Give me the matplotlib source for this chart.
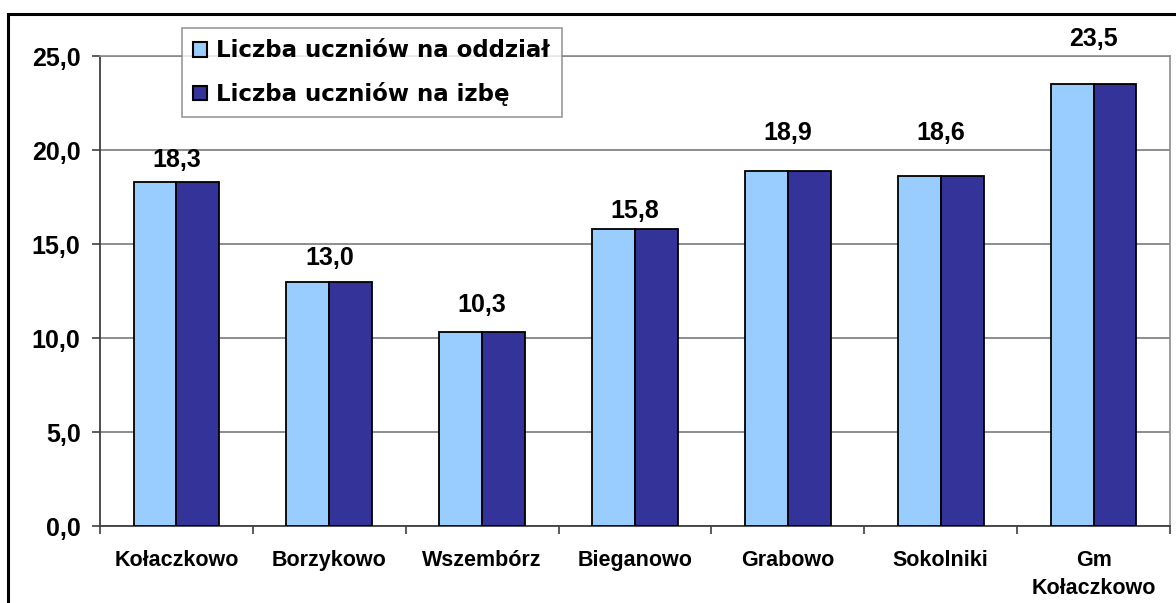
#!/usr/bin/env python3

import numpy as np
import matplotlib
matplotlib.use('Agg')
import matplotlib.pyplot as plt
from matplotlib.patches import Rectangle

categories = ['Kołaczkowo', 'Borzykowo', 'Wszembórz', 'Bieganowo', 'Grabowo', 'Sokolniki', 'Gm\nKołaczkowo']
per_class = [18.3, 13.0, 10.3, 15.8, 18.9, 18.6, 23.5]
per_room = [18.3, 13.0, 10.3, 15.8, 18.9, 18.6, 23.5]
series_names = ['Liczba uczniów na oddział', 'Liczba uczniów na izbę']

# label lift above the bars, as placed in the original
label_lift = [1.15, 1.25, 1.45, 0.95, 2.0, 2.3, 2.4]

plt.rcParams['font.family'] = ['Liberation Sans', 'DejaVu Sans']
plt.rcParams['font.weight'] = 'bold'

fig = plt.figure(figsize=(11.76, 6.03), dpi=100)
W, H = 1176, 603
ax = fig.add_axes([100 / W, (H - 526) / H, 1070 / W, 470 / H])

x = np.arange(len(categories))
bw = 0.28
ax.bar(x - bw / 2, per_class, bw, color='#99CCFF', edgecolor='black', linewidth=1.3,
       label=series_names[0], zorder=3)
ax.bar(x + bw / 2, per_room, bw, color='#333399', edgecolor='black', linewidth=1.3,
       label=series_names[1], zorder=3)

for i, v in enumerate(per_class):
    ax.text(x[i], v + label_lift[i], '{:.1f}'.format(v).replace('.', ','), ha='center', va='center',
            fontsize=18, fontweight='bold', clip_on=False)

ax.set_xlim(-0.5, len(categories) - 0.5)
ax.set_ylim(0, 25)
yt = np.arange(0, 26, 5)
ax.set_yticks(yt)
ax.set_yticklabels(['{:.1f}'.format(t).replace('.', ',') for t in yt], fontsize=18, fontweight='bold')
ax.yaxis.grid(True, color='#6f6f6f', linewidth=1.1, zorder=0)

ax.set_xticks(np.arange(len(categories) + 1) - 0.5)
ax.set_xticklabels([])
ax.set_xticks(x, minor=True)
ax.set_xticklabels(categories, minor=True, fontsize=15.5, fontweight='bold', linespacing=1.45)
ax.tick_params(axis='x', which='minor', length=0, pad=17)
ax.tick_params(axis='x', which='major', direction='out', length=6, width=1.2, color='#404040')
ax.tick_params(axis='y', direction='out', length=6, width=1.2, color='#404040', pad=8)

for s in ['left', 'bottom']:
    ax.spines[s].set_color('#404040')
    ax.spines[s].set_linewidth(1.3)
for s in ['top', 'right']:
    ax.spines[s].set_color('#8c8c8c')
    ax.spines[s].set_linewidth(1.2)

leg = ax.legend(loc='upper left', bbox_to_anchor=(182 / W, 1 - 28 / H), bbox_transform=fig.transFigure,
                prop={'family': 'DejaVu Sans', 'weight': 'bold', 'size': 16.5},
                frameon=True, fancybox=False, borderpad=0.5, handlelength=0.6,
                handleheight=0.6, handletextpad=0.4, labelspacing=0.85, borderaxespad=0)
leg.get_frame().set_edgecolor('#808080')
leg.get_frame().set_linewidth(1.2)
for h in leg.legend_handles:
    h.set_edgecolor('black')
    h.set_linewidth(1.5)

# outer chart border
fig.patches.append(Rectangle((8 / W, -0.05), 1.2, 1 - 14 / H + 0.05, transform=fig.transFigure,
                             fill=False, edgecolor='black', linewidth=2.2))

plt.savefig('out.png', dpi=100)
